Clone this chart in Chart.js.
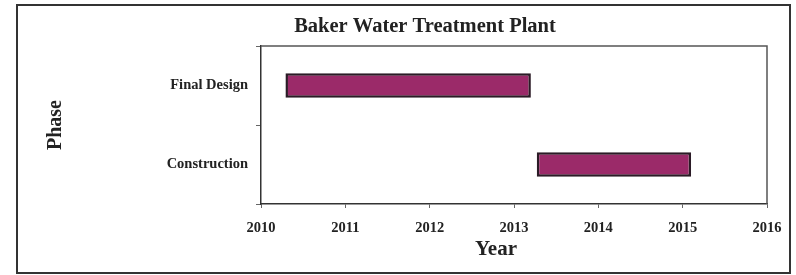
<!DOCTYPE html>
<html>
<head>
<meta charset="utf-8">
<script src="https://cdn.jsdelivr.net/npm/chart.js@4"></script>
<style>
  html, body { margin: 0; padding: 0; background: #fff; }
  #wrap { width: 796px; height: 275px; }
</style>
</head>
<body>
<div id="wrap"><canvas id="gantt"></canvas></div>
<script>
// phases and their start / end years
var phases = ['Final Design', 'Construction'];
var startYears = [2010.29, 2013.27];
var endYears = [2013.2, 2015.1];
var yearMin = 2010;
var yearMax = 2016;

var chartTitle = 'Baker Water Treatment Plant';
var xTitle = 'Year';
var yTitle = 'Phase';

var serif = '"Liberation Serif", "Times New Roman", serif';

// frame around the whole figure, box around the plot, and the text labels
var framePlugin = {
    id: 'frame',
    beforeDraw: function (chart) {
        var c = chart.ctx;
        c.save();
        c.fillStyle = '#fff';
        c.fillRect(0, 0, chart.width, chart.height);
        c.strokeStyle = '#333';
        c.lineWidth = 2;
        c.strokeRect(17, 5, 773, 268);
        c.restore();
    },
    afterDraw: function (chart) {
        var a = chart.chartArea;
        var c = chart.ctx;
        c.save();
        c.strokeStyle = '#555';
        c.lineWidth = 1.5;
        c.beginPath();
        c.moveTo(a.left, a.top);
        c.lineTo(a.right, a.top);
        c.lineTo(a.right, a.bottom);
        c.stroke();
        c.fillStyle = '#222';
        c.textAlign = 'center';
        c.textBaseline = 'middle';
        c.font = 'bold 20.5px ' + serif;
        c.fillText(chartTitle, 425, 27);
        c.font = 'bold 21px ' + serif;
        c.fillText(xTitle, 496, 250);
        c.restore();
    }
};

var ctx = document.getElementById('gantt');
var myChart = new Chart(ctx, {
    type: 'bar',
    data: {
        labels: phases,
        datasets: [{
            label: 'Phase',
            data: phases.map(function (p, i) { return [startYears[i], endYears[i]]; }),
            backgroundColor: '#9b2a69',
            borderColor: '#2b1b26',
            borderWidth: 2.5,
            borderSkipped: false,
            categoryPercentage: 1,
            barPercentage: 0.31
        }]
    },
    options: {
        indexAxis: 'y',
        responsive: true,
        maintainAspectRatio: false,
        animation: false,
        layout: { padding: { top: 46, right: 29, bottom: 0, left: 0 } },
        plugins: {
            legend: { display: false },
            title: { display: false },
            tooltip: { enabled: false }
        },
        scales: {
            x: {
                type: 'linear',
                min: yearMin,
                max: yearMax,
                afterFit: function (s) { s.height = 71; },
                grid: { drawOnChartArea: false, tickLength: 4, color: '#666' },
                border: { color: '#333', width: 1.5 },
                ticks: {
                    stepSize: 1,
                    padding: 12,
                    color: '#222',
                    font: { family: serif, size: 14.5, weight: 'bold' },
                    callback: function (v) { return String(v); }
                }
            },
            y: {
                afterFit: function (s) { s.width = 261; },
                grid: { drawOnChartArea: false, tickLength: 5, color: '#666', offset: true },
                border: { color: '#333', width: 1.5 },
                ticks: {
                    padding: 8,
                    color: '#222',
                    font: { family: serif, size: 14.5, weight: 'bold' }
                },
                title: {
                    display: true,
                    text: yTitle,
                    color: '#222',
                    font: { family: serif, size: 20, weight: 'bold' },
                    padding: { top: 44, bottom: 0 }
                }
            }
        }
    },
    plugins: [framePlugin]
});
</script>
</body>
</html>
